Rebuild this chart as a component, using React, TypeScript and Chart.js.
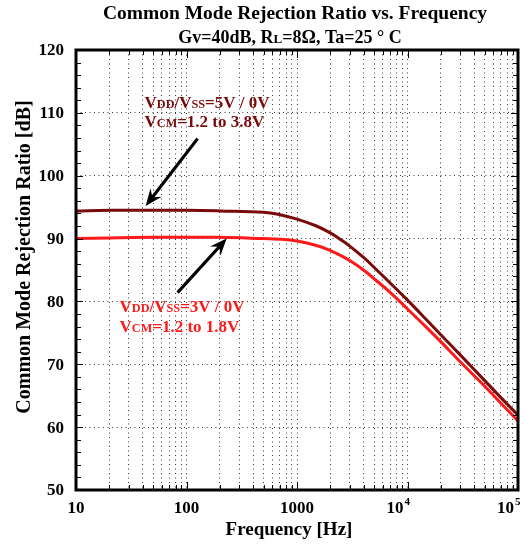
import React, { useEffect, useRef } from "react";
import { Chart, registerables } from "chart.js";

Chart.register(...registerables);

// ---- data ----
const FREQ_HZ = [10, 20, 50, 100, 200, 500, 700, 1000, 1500, 2000, 2500, 3000, 4000, 5000, 7000, 10000, 15000, 20000, 30000, 50000, 70000, 100000];
const CMRR_5V = [94.4, 94.5, 94.5, 94.5, 94.4, 94.2, 93.8, 93.1, 92.0, 90.9, 89.8, 88.8, 87.0, 85.4, 82.9, 80.2, 77.0, 74.7, 71.5, 67.4, 64.7, 61.9];
const CMRR_3V = [90.0, 90.1, 90.2, 90.2, 90.2, 90.0, 89.9, 89.6, 88.9, 88.1, 87.3, 86.5, 85.0, 83.6, 81.4, 78.8, 75.8, 73.6, 70.4, 66.5, 63.8, 61.0];

const Y_MIN = 50;
const Y_MAX = 120;
const Y_TICKS = [50, 60, 70, 80, 90, 100, 110, 120];
const X_MIN = 10;
const X_MAX = 100000;
const X_TICKS = [10, 100, 1000, 10000, 100000];
const X_TICK_BASE = ["10", "100", "1000", "10", "10"];
const X_TICK_EXP = ["", "", "", "4", "5"];

const TITLE = "Common Mode Rejection Ratio vs. Frequency";
const SUBTITLE: [string, boolean][] = [["Gv=40dB, R", false], ["L", true], ["=8\u03A9, Ta=25 \u00B0 C", false]];
const X_TITLE = "Frequency [Hz]";
const Y_TITLE = "Common Mode Rejection Ratio [dB]";

const ANNOT_5V_L1: [string, boolean][] = [["V", false], ["DD", true], ["/V", false], ["SS", true], ["=5V / 0V", false]];
const ANNOT_5V_L2: [string, boolean][] = [["V", false], ["CM", true], ["=1.2 to 3.8V", false]];
const ANNOT_3V_L1: [string, boolean][] = [["V", false], ["DD", true], ["/V", false], ["SS", true], ["=3V / 0V", false]];
const ANNOT_3V_L2: [string, boolean][] = [["V", false], ["CM", true], ["=1.2 to 1.8V", false]];

// annotation anchors in data units [freq, dB]
const ANNOT_5V_POS = [41.7, 110.8, 107.8];
const ANNOT_3V_POS = [24.8, 78.3, 75.2];
const ARROW_5V = [126, 105.9, 42.7, 95.2];
const ARROW_3V = [83, 81.4, 231, 90.0];

const COLOR_5V = "#7a0a0a";
const COLOR_3V = "#ff1a1a";

const FONT = '"Liberation Serif", "Times New Roman", Times, serif';

function minorFreqs(): number[] {
  const out: number[] = [];
  for (let d = 10; d < X_MAX; d *= 10) {
    for (let k = 1; k <= 9; k++) out.push(d * k);
  }
  out.push(X_MAX);
  return out;
}

function drawRich(ctx: CanvasRenderingContext2D, segs: [string, boolean][], x: number, y: number, size: number, color: string, align: "left" | "center" = "left") {
  const small = size * 0.72;
  let total = 0;
  for (const [t, s] of segs) {
    ctx.font = `bold ${s ? small : size}px ${FONT}`;
    total += ctx.measureText(t).width;
  }
  let cx = align === "center" ? x - total / 2 : x;
  ctx.fillStyle = color;
  ctx.textAlign = "left";
  ctx.textBaseline = "alphabetic";
  for (const [t, s] of segs) {
    ctx.font = `bold ${s ? small : size}px ${FONT}`;
    ctx.fillText(t, cx, y);
    cx += ctx.measureText(t).width;
  }
}

function drawArrow(ctx: CanvasRenderingContext2D, x0: number, y0: number, x1: number, y1: number) {
  const ang = Math.atan2(y1 - y0, x1 - x0);
  const head = 17;
  const half = 7;
  const notch = 11;
  ctx.strokeStyle = "#000";
  ctx.fillStyle = "#000";
  ctx.lineWidth = 3.2;
  ctx.beginPath();
  ctx.moveTo(x0, y0);
  ctx.lineTo(x1 - Math.cos(ang) * notch, y1 - Math.sin(ang) * notch);
  ctx.stroke();
  const bx = x1 - Math.cos(ang) * head;
  const by = y1 - Math.sin(ang) * head;
  const nx = -Math.sin(ang);
  const ny = Math.cos(ang);
  ctx.beginPath();
  ctx.moveTo(x1, y1);
  ctx.lineTo(bx + nx * half, by + ny * half);
  ctx.lineTo(x1 - Math.cos(ang) * notch, y1 - Math.sin(ang) * notch);
  ctx.lineTo(bx - nx * half, by - ny * half);
  ctx.closePath();
  ctx.fill();
}

const decorPlugin = {
  id: "decor",
  afterDraw(chart: any) {
    const ctx: CanvasRenderingContext2D = chart.ctx;
    const a = chart.chartArea;
    const xs = chart.scales.x;
    const ys = chart.scales.y;
    ctx.save();

    // inside ticks
    ctx.strokeStyle = "#000";
    ctx.lineWidth = 1;
    ctx.beginPath();
    for (let v = Y_MIN + 2; v < Y_MAX; v += 2) {
      const y = Math.round(ys.getPixelForValue(v)) + 0.5;
      const len = v % 10 === 0 ? 7 : 5;
      ctx.moveTo(a.left, y); ctx.lineTo(a.left + len, y);
      ctx.moveTo(a.right - len, y); ctx.lineTo(a.right, y);
    }
    for (const f of minorFreqs()) {
      if (f <= X_MIN || f >= X_MAX) continue;
      const x = Math.round(xs.getPixelForValue(f)) + 0.5;
      const dec = Math.abs(Math.log10(f) - Math.round(Math.log10(f))) < 1e-9;
      const len = dec ? 8 : 5;
      ctx.moveTo(x, a.bottom); ctx.lineTo(x, a.bottom - len);
      ctx.moveTo(x, a.top); ctx.lineTo(x, a.top + len);
    }
    ctx.stroke();

    // frame
    ctx.lineWidth = 3;
    ctx.strokeRect(a.left, a.top, a.right - a.left, a.bottom - a.top);

    // y tick labels
    ctx.fillStyle = "#000";
    ctx.font = `bold 17px ${FONT}`;
    ctx.textAlign = "right";
    ctx.textBaseline = "middle";
    for (const v of Y_TICKS) {
      ctx.fillText(String(v), a.left - 12, ys.getPixelForValue(v) + 1);
    }

    // x tick labels
    ctx.textBaseline = "alphabetic";
    X_TICKS.forEach((v, i) => {
      const px = xs.getPixelForValue(v);
      const base = X_TICK_BASE[i];
      const exp = X_TICK_EXP[i];
      ctx.font = `bold 17px ${FONT}`;
      const bw = ctx.measureText(base).width;
      if (!exp) {
        ctx.textAlign = "center";
        ctx.fillText(base, px, a.bottom + 23);
      } else {
        ctx.textAlign = "left";
        const bx = px - bw - 4;
        ctx.fillText(base, bx, a.bottom + 23);
        ctx.font = `bold 11px ${FONT}`;
        ctx.fillText(exp, bx + bw + 1, a.bottom + 15);
      }
    });

    // axis titles
    ctx.font = `bold 19px ${FONT}`;
    ctx.textAlign = "center";
    ctx.textBaseline = "alphabetic";
    ctx.fillText(X_TITLE, 289, 535);

    ctx.save();
    ctx.translate(30, 257);
    ctx.rotate(-Math.PI / 2);
    ctx.font = `bold 20px ${FONT}`;
    ctx.fillText(Y_TITLE, 0, 0);
    ctx.restore();

    // titles
    ctx.font = `bold 19.5px ${FONT}`;
    ctx.textAlign = "center";
    ctx.fillText(TITLE, 295, 19);
    drawRich(ctx, SUBTITLE, 290, 43, 18, "#000", "center");

    // annotations
    const ax = (f: number) => xs.getPixelForValue(f);
    const ay = (v: number) => ys.getPixelForValue(v);
    drawRich(ctx, ANNOT_5V_L1, ax(ANNOT_5V_POS[0]), ay(ANNOT_5V_POS[1]), 17, COLOR_5V);
    drawRich(ctx, ANNOT_5V_L2, ax(ANNOT_5V_POS[0]), ay(ANNOT_5V_POS[2]), 17, COLOR_5V);
    drawRich(ctx, ANNOT_3V_L1, ax(ANNOT_3V_POS[0]), ay(ANNOT_3V_POS[1]), 17, COLOR_3V);
    drawRich(ctx, ANNOT_3V_L2, ax(ANNOT_3V_POS[0]), ay(ANNOT_3V_POS[2]), 17, COLOR_3V);

    drawArrow(ctx, ax(ARROW_5V[0]), ay(ARROW_5V[1]), ax(ARROW_5V[2]), ay(ARROW_5V[3]));
    drawArrow(ctx, ax(ARROW_3V[0]), ay(ARROW_3V[1]), ax(ARROW_3V[2]), ay(ARROW_3V[3]));

    ctx.restore();
  },
};

export default function App() {
  const canvasRef = useRef<HTMLCanvasElement | null>(null);

  useEffect(() => {
    const canvas = canvasRef.current;
    if (!canvas) return;
    const gridOpts = { color: "#3a3a3a", lineWidth: 1, drawTicks: false };
    const chart = new Chart(canvas, {
      type: "line",
      data: {
        datasets: [
          {
            label: "VDD/VSS=3V / 0V",
            data: FREQ_HZ.map((f, i) => ({ x: f, y: CMRR_3V[i] })),
            borderColor: COLOR_3V,
            borderWidth: 3,
            pointRadius: 0,
            tension: 0.4,
            fill: false,
          },
          {
            label: "VDD/VSS=5V / 0V",
            data: FREQ_HZ.map((f, i) => ({ x: f, y: CMRR_5V[i] })),
            borderColor: COLOR_5V,
            borderWidth: 3,
            pointRadius: 0,
            tension: 0.4,
            fill: false,
          },
        ],
      },
      options: {
        responsive: false,
        animation: false,
        events: [],
        layout: { padding: { left: 76, right: 14, top: 50, bottom: 54 } },
        plugins: { legend: { display: false }, tooltip: { enabled: false }, title: { display: false } },
        scales: {
          x: {
            type: "logarithmic",
            min: X_MIN,
            max: X_MAX,
            afterBuildTicks: (scale: any) => {
              scale.ticks = minorFreqs().map((v) => ({ value: v }));
            },
            ticks: { display: false },
            grid: gridOpts,
            border: { display: false, dash: [1, 3.5] },
          },
          y: {
            type: "linear",
            min: Y_MIN,
            max: Y_MAX,
            ticks: { display: false, stepSize: 10 },
            grid: gridOpts,
            border: { display: false, dash: [1, 3.5] },
          },
        },
      } as any,
      plugins: [decorPlugin],
    });
    return () => chart.destroy();
  }, []);

  return (
    <div style={{ position: "fixed", left: 0, top: 0, width: 532, height: 544, background: "#fff" }}>
      <canvas ref={canvasRef} width={532} height={544} style={{ display: "block" }} />
    </div>
  );
}
